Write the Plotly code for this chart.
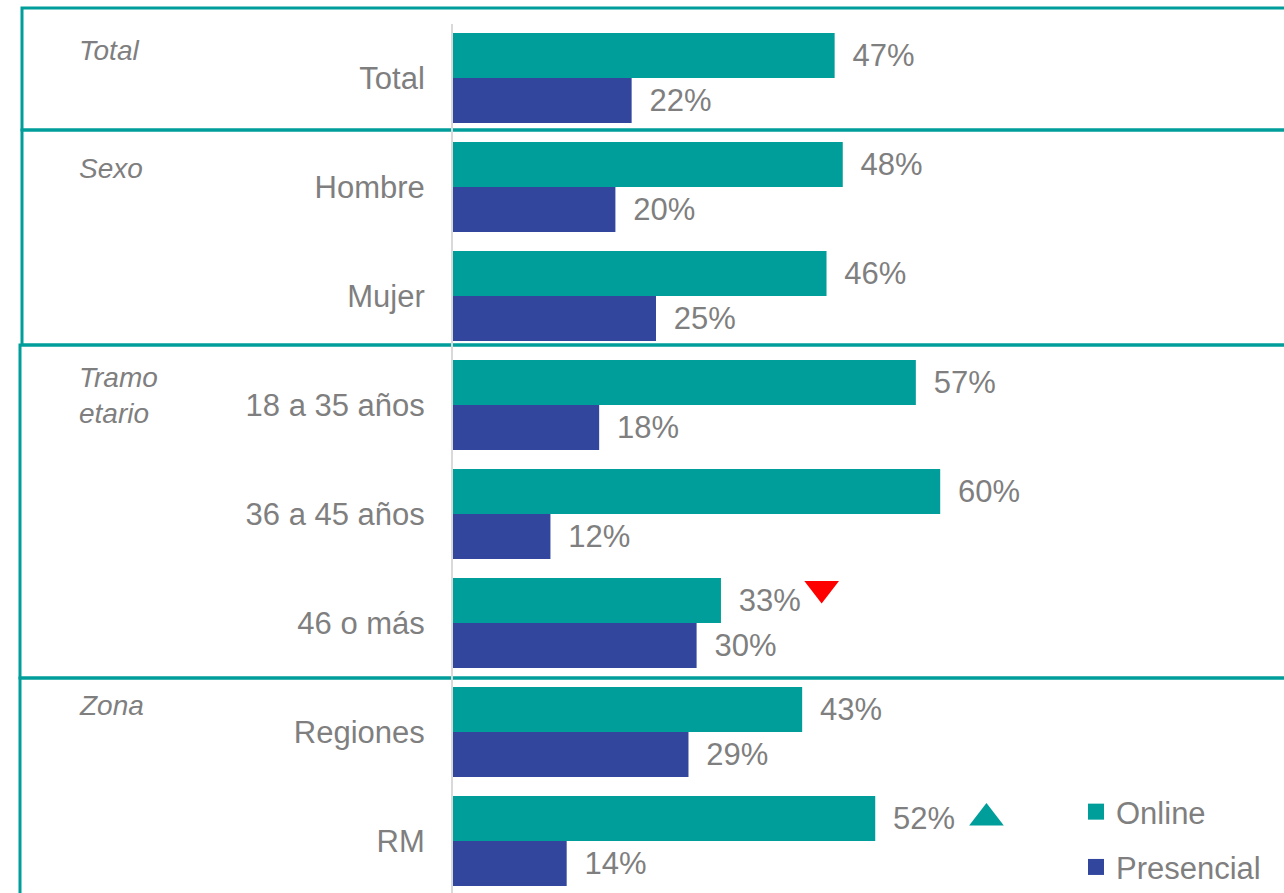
import plotly.graph_objects as go

# ---------------- data ----------------
categories = ["Total", "Hombre", "Mujer", "18 a 35 años", "36 a 45 años", "46 o más", "Regiones", "RM"]
online = [47, 48, 46, 57, 60, 33, 43, 52]
presencial = [22, 20, 25, 18, 12, 30, 29, 14]
# significance markers for the Online series (None / "down" / "up")
online_sig = [None, None, None, None, None, "down", None, "up"]

groups = ["Total", "Sexo", "Tramo<br>etario", "Zona"]
group_label_row = [-0.25, 0.83, 2.91, 5.76]

# ---------------- style ----------------
TEAL = "#009E9A"
BLUE = "#31469C"
GREY = "#7F7F7F"
FONT = "Arial, 'Liberation Sans', sans-serif"
W, H = 1284, 893
ML, MT = 453, 24
PLOT_W = W - ML
PLOT_H = H - MT

rows = list(range(len(categories)))
LBL = " \u2009%{x}%"

fig = go.Figure()
fig.add_trace(go.Bar(
    y=rows, x=online, orientation="h", name="Online",
    marker=dict(color=TEAL, line=dict(width=0)),
    text=online, texttemplate=LBL, textposition="outside",
    textfont=dict(color=GREY, size=31, family=FONT),
    constraintext="none", cliponaxis=False, showlegend=False,
))
fig.add_trace(go.Bar(
    y=rows, x=presencial, orientation="h", name="Presencial",
    marker=dict(color=BLUE, line=dict(width=0)),
    text=presencial, texttemplate=LBL, textposition="outside",
    textfont=dict(color=GREY, size=31, family=FONT),
    constraintext="none", cliponaxis=False, showlegend=False,
))

# significance triangles
down_x = [v + 12.4 for v, s in zip(online, online_sig) if s == "down"]
down_y = [r - 0.317 for r, s in zip(rows, online_sig) if s == "down"]
up_x = [v + 13.7 for v, s in zip(online, online_sig) if s == "up"]
up_y = [r - 0.211 for r, s in zip(rows, online_sig) if s == "up"]
fig.add_trace(go.Scatter(x=down_x, y=down_y, mode="markers", showlegend=False,
                         marker=dict(symbol="triangle-down", size=30, color="#FF0000"),
                         cliponaxis=False, hoverinfo="skip"))
fig.add_trace(go.Scatter(x=up_x, y=up_y, mode="markers", showlegend=False,
                         marker=dict(symbol="triangle-up", size=30, color=TEAL),
                         cliponaxis=False, hoverinfo="skip"))

# legend entries (square markers)
for nm, col, grp in [("Online", TEAL, "a"), ("Presencial", BLUE, "b")]:
    fig.add_trace(go.Scatter(x=[None], y=[None], mode="markers", name=nm,
                             legendgroup=grp,
                             marker=dict(symbol="square", size=16, color=col)))

# ---------------- boxes ----------------
def px_x(px):
    return (px - ML) / PLOT_W


def px_y(px):
    return (H - px) / PLOT_H


boxes = [  # (left px, top px, bottom px)
    (22, 8, 130),
    (22, 130, 345),
    (20, 345, 678),
    (20, 678, 920),
]
shapes = []
for lx, t, b in boxes:
    shapes.append(dict(type="rect", xref="paper", yref="paper",
                       x0=px_x(lx), x1=1.05, y0=px_y(b), y1=px_y(t),
                       line=dict(color=TEAL, width=3), fillcolor="rgba(0,0,0,0)",
                       layer="below"))

annotations = []
for g, r in zip(groups, group_label_row):
    annotations.append(dict(text=g, xref="paper", yref="y", x=px_x(77), y=r,
                            xanchor="left", yanchor="middle", align="left",
                            showarrow=False,
                            font=dict(size=28, color=GREY, family=FONT, style="italic")))

y_bottom = (H - 78) / 109.0
y_top = (MT - 78) / 109.0

fig.update_layout(
    width=W, height=H,
    margin=dict(l=ML, r=0, t=MT, b=0, pad=0, autoexpand=False),
    paper_bgcolor="white", plot_bgcolor="white",
    barmode="group", bargap=0.174, bargroupgap=0,
    font=dict(family=FONT, color=GREY),
    xaxis=dict(range=[0, PLOT_W / 8.12], visible=False, showgrid=False, zeroline=False),
    yaxis=dict(range=[y_bottom, y_top], tickmode="array", tickvals=rows, ticktext=categories,
               showgrid=False, zeroline=False, showline=True, linecolor="#D9D9D9", linewidth=2,
               ticks="", ticklabelstandoff=20,
               tickfont=dict(size=31, color=GREY, family=FONT)),
    legend=dict(x=px_x(1076), y=px_y(785), xanchor="left", yanchor="top",
                xref="paper", yref="paper",
                font=dict(size=31, color=GREY, family=FONT),
                bgcolor="rgba(0,0,0,0)", tracegroupgap=12, traceorder="grouped",
                itemsizing="trace"),
    shapes=shapes,
    annotations=annotations,
)

fig.write_html("out.html", config={"displayModeBar": False},
               post_script="document.body.style.margin='0';")
